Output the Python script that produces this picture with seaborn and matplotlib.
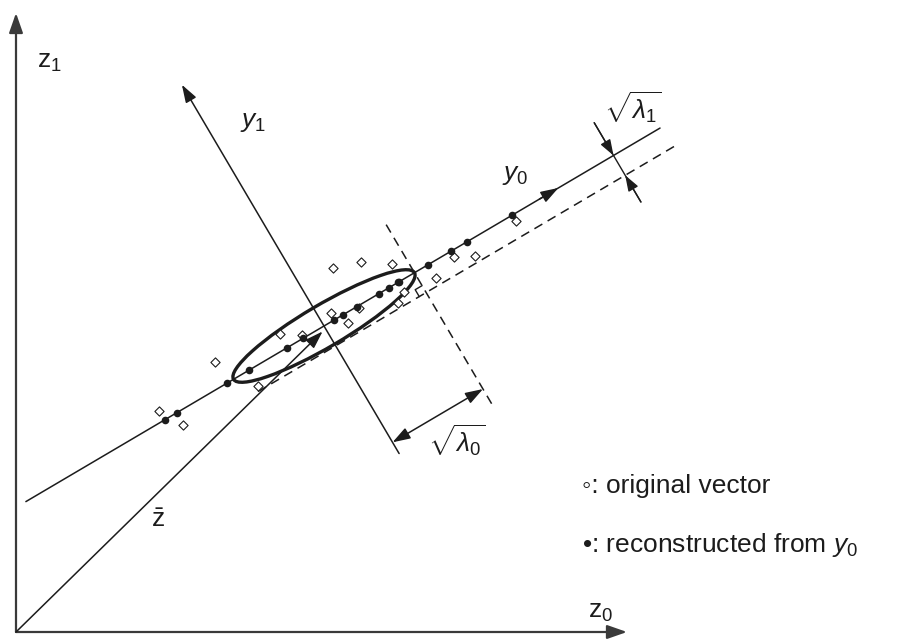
import numpy as np
import pandas as pd
import matplotlib
matplotlib.use("Agg")
import matplotlib.pyplot as plt
from matplotlib.patches import Ellipse
import seaborn as sns

# ---- data (coordinates in the z0 / z1 plane) ----
orig_z0 = [143, 167, 199, 242, 264, 286, 315, 332, 343, 317, 345, 376, 382, 388, 420, 438, 459, 500]
orig_z1 = [221, 207, 270, 246, 298, 297, 319, 309, 324, 364, 370, 368, 329, 340, 354, 375, 376, 411]
# scores of the reconstructed samples along the first principal axis y0
recon_y0 = [-184.5, -170.5, -112.5, -87, -43, -24.4, 11.6, 22, 38.3, 63.8,
            75.4, 85.8, 87, 120.6, 147.3, 166, 218]

mean_z = np.array([308.0, 306.0])     # z-bar
axis_angle_deg = 30.5                 # direction of y0
sqrt_lam0 = 105.0
sqrt_lam1 = 23.0

u = np.array([np.cos(np.radians(axis_angle_deg)), np.sin(np.radians(axis_angle_deg))])
v = np.array([-u[1], u[0]])


def frame(t, s):
    """point given by its (y0, y1) coordinates"""
    return mean_z + t * u + s * v


sns.set_theme(style="white")
plt.rcParams["font.family"] = ["Liberation Sans", "DejaVu Sans"]
plt.rcParams["mathtext.fontset"] = "custom"
plt.rcParams["mathtext.rm"] = "Liberation Sans"
plt.rcParams["mathtext.it"] = "Liberation Sans:italic"
plt.rcParams["mathtext.bf"] = "Liberation Sans:bold"

fig = plt.figure(figsize=(8.97, 6.39), dpi=100)
ax = fig.add_axes([0, 0, 1, 1])
ax.set_xlim(-16, 881)
ax.set_ylim(-7, 632)
ax.axis("off")

ink = "#1c1c1c"
axis_ink = "#3a3a3a"


def arrow(p0, p1, lw=1.1, color=ink, style="-|>", hl=0.9, hw=0.32, z=2):
    ax.annotate("", xy=tuple(p1), xytext=tuple(p0),
                arrowprops=dict(arrowstyle=f"{style},head_length={hl},head_width={hw}",
                                lw=lw, color=color, shrinkA=0, shrinkB=0),
                zorder=z)


# coordinate axes z0, z1
arrow((0, 0), (611, 0), lw=1.6, color=axis_ink, hl=1.0, hw=0.35)
arrow((0, 0), (0, 619), lw=1.6, color=axis_ink, hl=1.0, hw=0.35)

# mean vector z-bar
arrow((0, 0), frame(-4, -4), lw=1.1, hl=0.9, hw=0.3)

# principal axis y0 with a direction mark
p_a, p_b = frame(-346, 0), frame(390, 0)
ax.plot([p_a[0], p_b[0]], [p_a[1], p_b[1]], color=ink, lw=1.1, zorder=2)
arrow(frame(250, 0), frame(272, 0), lw=1.1, hl=0.9, hw=0.3)

# principal axis y1
arrow(frame(0, -148), frame(0, 280), lw=1.1, hl=0.9, hw=0.3)

# dashed guide lines at +sqrt(lambda0) along y0 and -sqrt(lambda1) along y1
d_a, d_b = frame(sqrt_lam0, -152), frame(sqrt_lam0, 58)
ax.plot([d_a[0], d_b[0]], [d_a[1], d_b[1]], color=ink, lw=1.1, ls=(0, (6, 4)), zorder=2)
k = 1 - sqrt_lam1 / (mean_z @ v)
t_start = (k - 1) * (mean_z @ u)
d_a, d_b = frame(t_start, -sqrt_lam1), frame(397, -sqrt_lam1)
ax.plot([d_a[0], d_b[0]], [d_a[1], d_b[1]], color=ink, lw=1.1, ls=(0, (6, 4)), zorder=2)

# right-angle mark where the dashed lines meet
c = 8
pts = np.array([frame(sqrt_lam0, -sqrt_lam1 + c), frame(sqrt_lam0 - c, -sqrt_lam1 + c),
                frame(sqrt_lam0 - c, -sqrt_lam1)])
ax.plot(pts[:, 0], pts[:, 1], color=ink, lw=1.0, zorder=2)

# sqrt(lambda0) dimension arrow
arrow(frame(0, -135), frame(sqrt_lam0, -135), style="<|-|>", lw=1.1, hl=0.9, hw=0.3)

# sqrt(lambda1) dimension marks
t1 = 336
q_a, q_b = frame(t1, 38), frame(t1, -54)
ax.plot([q_a[0], q_b[0]], [q_a[1], q_b[1]], color=ink, lw=1.0, zorder=2)
arrow(frame(t1, 38), frame(t1, 0), lw=1.0, hl=0.8, hw=0.28)
arrow(frame(t1, -54), frame(t1, -sqrt_lam1), lw=1.0, hl=0.8, hw=0.28)

# one-sigma ellipse of the data
ell = Ellipse(xy=tuple(mean_z), width=2 * sqrt_lam0, height=2 * 21,
              angle=axis_angle_deg, fill=False, ec=ink, lw=2.4, zorder=2)
ax.add_patch(ell)

# samples
orig = pd.DataFrame({"z0": orig_z0, "z1": orig_z1})
rec_xy = np.array([frame(t, 0) for t in recon_y0])
rec = pd.DataFrame({"z0": rec_xy[:, 0], "z1": rec_xy[:, 1]})

sns.scatterplot(data=orig, x="z0", y="z1", marker="D", s=22, color="white",
                edgecolor=ink, linewidth=0.8, ax=ax, zorder=4, legend=False)
sns.scatterplot(data=rec, x="z0", y="z1", marker="o", s=30, color=ink,
                edgecolor=ink, linewidth=0, ax=ax, zorder=5, legend=False)

# labels
fs = 19
ax.text(21, 564, r"$\mathrm{z}_1$", fontsize=fs, color=ink, ha="left", va="baseline")
ax.text(572, 14, r"$\mathrm{z}_0$", fontsize=fs, color=ink, ha="left", va="baseline")
ax.text(486, 452, r"$y_0$", fontsize=fs, color=ink, ha="left", va="baseline")
ax.text(224, 505, r"$y_1$", fontsize=fs, color=ink, ha="left", va="baseline")
ax.text(142, 112, r"$\bar{\mathrm{z}}$", fontsize=fs, color=ink, ha="center", va="center")
ax.text(617, 524, r"$\sqrt{\lambda_1}$", fontsize=fs, color=ink, ha="center", va="center")
ax.text(441, 191, r"$\sqrt{\lambda_0}$", fontsize=fs, color=ink, ha="center", va="center")

ax.text(566, 139, "\u25e6: original vector", fontsize=fs, color=ink, ha="left", va="baseline")
ax.text(566, 80, "\u2022: reconstructed from $y_0$", fontsize=fs, color=ink,
        ha="left", va="baseline")

fig.savefig("out.png", dpi=100)
